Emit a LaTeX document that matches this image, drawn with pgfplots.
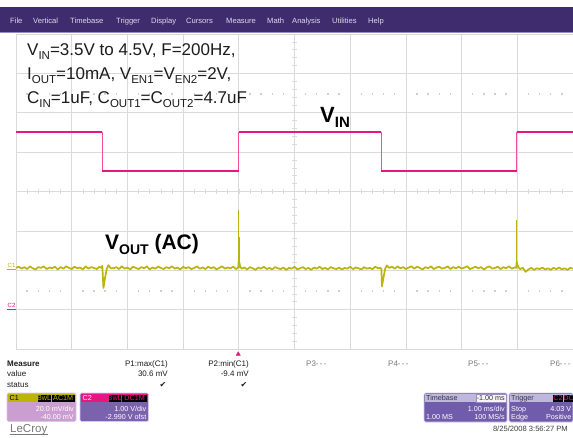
\documentclass[border=0pt]{standalone}
\usepackage{pgfplots}
\pgfplotsset{compat=1.18}
\usepackage{fontspec}
\setmainfont{Liberation Sans}
\newfontfamily\dejavu{DejaVu Sans}

\definecolor{menupurple}{RGB}{62,44,110}
\definecolor{menuline}{RGB}{150,140,190}
\definecolor{menutext}{RGB}{222,218,236}
\definecolor{gridgray}{RGB}{218,218,218}
\definecolor{vinpink}{RGB}{232,22,128}
\definecolor{voutolive}{RGB}{186,180,12}
\definecolor{cfirstbody}{RGB}{202,158,208}
\definecolor{csecondbody}{RGB}{122,98,172}
\definecolor{tbbody}{RGB}{112,92,170}
\definecolor{tbhead}{RGB}{190,184,218}
\definecolor{boxedge}{RGB}{214,200,232}
\definecolor{inktext}{RGB}{28,28,28}
\definecolor{softtext}{RGB}{120,120,120}

% small subscript used in the test-condition text
\newcommand\sbs[1]{\raisebox{-3.2pt}{\fontsize{11.5}{12}\selectfont #1}}
\newcommand\fs[1]{\fontsize{#1}{#1}\selectfont}

\begin{document}
\begin{tikzpicture}
\path[use as bounding box, fill=white] (0,0) rectangle (573pt,437pt);

% ---- screen decorations drawn under the traces (pixel frame, y downwards)
\begin{scope}[x=1pt,y=-1pt,shift={(0pt,437pt)}]
  % centre cross with fifth-division ticks
  \foreach \k in {1,...,39}
    \draw[gridgray, line width=0.6pt] (292.3,{34+\k*7.875}) -- (296.7,{34+\k*7.875});
  \foreach \k in {1,...,49}
    \draw[gridgray, line width=0.6pt] ({16+\k*11.14},189.4) -- ({16+\k*11.14},193.8);
  % dotted rows
  \foreach \d in {0,...,9}
    \foreach \j in {1,2,3,4} {
      \fill[gridgray!80!black!60] ({16+(\d*5+\j)*11.14-0.7},93.3) rectangle ++(1.4,1.4);
      \fill[gridgray!80!black!60] ({16+(\d*5+\j)*11.14-0.7},290.3) rectangle ++(1.4,1.4);
    }
\end{scope}

\begin{axis}[
  at={(16pt,88pt)}, anchor=south west,
  width=557pt, height=315pt, scale only axis,
  xmin=0, xmax=10, ymin=0, ymax=8,
  xtick={0,...,10}, ytick={0,...,8},
  xticklabels={}, yticklabels={},
  major tick length=0pt,
  tick style={draw=none},
  grid=major,
  major grid style={draw=gridgray, line width=0.7pt},
  axis line style={draw=gridgray, line width=0.8pt},
  clip=false,
  unbounded coords=jump,
]
% VIN, 1 V/div: edges
\addplot[vinpink!75, line width=0.9pt] coordinates {
  (0,5.51) (1.55,5.51) (1.55,4.52) (4.00,4.52) (4.00,5.51)
  (6.56,5.51) (6.56,4.52) (8.99,4.52) (8.99,5.51) (10,5.51)};
% VIN levels
\addplot[vinpink, line width=2.3pt] coordinates {
  (0,5.51) (1.55,5.51) (1.55,nan)
  (1.55,4.52) (4.00,4.52) (4.00,nan)
  (4.00,5.51) (6.56,5.51) (6.56,nan)
  (6.56,4.52) (8.99,4.52) (8.99,nan)
  (8.99,5.51) (10,5.51)};
% VOUT (AC), 20 mV/div, zero at 2 div: noise band
\addplot[voutolive, line width=1.7pt, line join=round] coordinates {
  (0.00,2.06)(0.05,2.09)(0.10,2.04)(0.15,2.08)(0.20,2.03)(0.25,2.10)(0.30,2.05)(0.35,2.02)
  (0.40,2.08)(0.45,2.06)(0.50,2.10)(0.55,2.03)(0.60,2.07)(0.65,2.05)(0.70,2.09)(0.75,2.02)
  (0.80,2.08)(0.85,2.04)(0.90,2.10)(0.95,2.06)(1.00,2.03)(1.05,2.09)(1.10,2.05)(1.15,2.07)
  (1.20,2.02)(1.25,2.10)(1.30,2.04)(1.35,2.08)(1.40,2.06)(1.45,2.03)(1.50,2.09)
  (1.53,2.06)(1.55,2.11)(1.57,1.55)(1.60,1.82)(1.63,2.04)(1.66,2.13)(1.70,2.05)
  (1.75,2.05)(1.80,2.08)(1.85,2.03)(1.90,2.10)(1.95,2.04)(2.00,2.07)(2.05,2.02)(2.10,2.09)
  (2.15,2.06)(2.20,2.03)(2.25,2.08)(2.30,2.05)(2.35,2.10)(2.40,2.02)(2.45,2.07)(2.50,2.04)
  (2.55,2.09)(2.60,2.06)(2.65,2.03)(2.70,2.08)(2.75,2.05)(2.80,2.10)(2.85,2.04)(2.90,2.07)
  (2.95,2.02)(3.00,2.09)(3.05,2.05)(3.10,2.08)(3.15,2.03)(3.20,2.06)(3.25,2.10)(3.30,2.04)
  (3.35,2.07)(3.40,2.03)(3.45,2.09)(3.50,2.05)(3.55,2.08)(3.60,2.02)(3.65,2.06)(3.70,2.10)
  (3.75,2.04)(3.80,2.07)(3.85,2.05)(3.90,2.09)(3.95,2.03)
  (3.99,2.07)(4.00,2.25)(4.01,2.20)(4.02,2.12)(4.04,2.06)
  (4.05,2.04)(4.10,2.07)(4.15,2.02)(4.20,2.08)(4.25,2.05)(4.30,2.01)(4.35,2.07)(4.40,2.04)
  (4.45,2.09)(4.50,2.03)(4.55,2.06)(4.60,2.02)(4.65,2.08)(4.70,2.05)(4.75,2.03)(4.80,2.07)
  (4.85,2.01)(4.90,2.06)(4.95,2.04)(5.00,2.09)(5.05,2.02)(5.10,2.05)(5.15,2.08)(5.20,2.03)
  (5.25,2.06)(5.30,2.01)(5.35,2.07)(5.40,2.04)(5.45,2.09)(5.50,2.03)(5.55,2.06)(5.60,2.02)
  (5.65,2.08)(5.70,2.05)(5.75,2.03)(5.80,2.07)(5.85,2.02)(5.90,2.06)(5.95,2.04)(6.00,2.09)
  (6.05,2.03)(6.10,2.07)(6.15,2.05)(6.20,2.02)(6.25,2.08)(6.30,2.04)(6.35,2.06)(6.40,2.03)
  (6.45,2.09)(6.50,2.05)
  (6.54,2.06)(6.56,2.03)(6.57,1.59)(6.60,1.84)(6.63,2.05)(6.66,2.12)
  (6.70,2.06)(6.75,2.09)(6.80,2.04)(6.85,2.10)(6.90,2.05)(6.95,2.08)(7.00,2.03)(7.05,2.07)
  (7.10,2.10)(7.15,2.04)(7.20,2.09)(7.25,2.06)(7.30,2.02)(7.35,2.08)(7.40,2.05)(7.45,2.10)
  (7.50,2.03)(7.55,2.07)(7.60,2.09)(7.65,2.04)(7.70,2.06)(7.75,2.10)(7.80,2.03)(7.85,2.08)
  (7.90,2.05)(7.95,2.09)(8.00,2.04)(8.05,2.07)(8.10,2.10)(8.15,2.03)(8.20,2.06)(8.25,2.09)
  (8.30,2.05)(8.35,2.08)(8.40,2.02)(8.45,2.07)(8.50,2.10)(8.55,2.04)(8.60,2.06)(8.65,2.09)
  (8.70,2.03)(8.75,2.08)(8.80,2.05)(8.85,2.10)(8.90,2.04)(8.95,2.07)
  (8.98,2.06)(8.99,2.22)(9.00,2.15)(9.02,2.08)
  (9.05,2.03)(9.10,2.06)(9.15,1.96)(9.20,2.02)(9.25,2.06)(9.30,2.01)(9.35,2.05)(9.40,2.03)
  (9.45,2.07)(9.50,2.02)(9.55,2.05)(9.60,2.01)(9.65,2.06)(9.70,2.03)(9.75,2.07)(9.80,2.02)
  (9.85,2.05)(9.90,2.01)(9.95,2.06)(10.00,2.04)};
% VOUT positive spikes at the rising VIN edges (P1: max = 30.6 mV)
\addplot[voutolive, line width=1.0pt] coordinates {(4.00,2.06) (4.00,3.53)};
\addplot[voutolive, line width=1.4pt] coordinates {(4.003,2.06) (4.003,2.85)};
\addplot[voutolive, line width=1.0pt] coordinates {(8.99,2.06) (8.99,3.28)};
% trigger position marker
\addplot[only marks, mark=triangle*, mark size=2.4pt, vinpink] coordinates {(3.99,-0.13)};
\end{axis}

% ---- text, menus and readouts (pixel frame, y downwards)
\begin{scope}[x=1pt,y=-1pt,shift={(0pt,437pt)}]
  % menu bar
  \fill[menupurple] (0,7) rectangle (573,32);
  \fill[menuline] (0,32) rectangle (573,33.2);
  \foreach \xx/\tt in {10/File,33/Vertical,70/Timebase,116/Trigger,151/Display,186/Cursors,
                       226/Measure,267/Math,292/Analysis,332/Utilities,368/Help}
    \node[anchor=base west, inner sep=0pt, text=menutext, font=\fs{7.6}] at (\xx,23.5) {\tt};

  % test conditions
  \node[anchor=base west, inner sep=0pt, text=inktext, font=\fs{17}] at (27,56)
    {V\sbs{IN}=3.5V to 4.5V, F=200Hz,};
  \node[anchor=base west, inner sep=0pt, text=inktext, font=\fs{17}] at (27,80)
    {I\sbs{OUT}=10mA, V\sbs{EN1}=V\sbs{EN2}=2V,};
  \node[anchor=base west, inner sep=0pt, text=inktext, font=\fs{17}] at (27,104)
    {C\sbs{IN}=1uF, C\sbs{OUT1}=C\sbs{OUT2}=4.7uF};

  % trace labels
  \node[anchor=base west, inner sep=0pt, text=black, font=\bfseries\fs{22}] at (320,123)
    {V\raisebox{-5pt}{\fs{15}IN}};
  \node[anchor=base west, inner sep=0pt, text=black, font=\bfseries\fs{21}] at (105,250)
    {V\raisebox{-4.5pt}{\fs{14}OUT} (AC)};

  % channel ground markers
  \node[anchor=base west, inner sep=0pt, text=voutolive, font=\fs{6}] at (7.5,267) {C1};
  \draw[voutolive, line width=0.9pt] (7,269.5) -- (16,269.5);
  \node[anchor=base west, inner sep=0pt, text=vinpink, font=\fs{6}] at (7.5,307) {C2};
  \draw[vinpink, line width=0.9pt] (7,309.5) -- (16,309.5);

  % measurement table
  \begin{scope}[every node/.style={inner sep=0pt, text=inktext, font=\fs{8}}]
    \node[anchor=base west, font=\bfseries\fs{8}] at (7,366) {Measure};
    \node[anchor=base west] at (7,376.5) {value};
    \node[anchor=base west] at (7,387) {status};
    \node[anchor=base east] at (168,366) {P1:max(C1)};
    \node[anchor=base east] at (168,376.5) {30.6 mV};
    \node[anchor=base] at (163,387.5) {\dejavu\fs{8}✔};
    \node[anchor=base east] at (249,366) {P2:min(C1)};
    \node[anchor=base east] at (249,376.5) {-9.4 mV};
    \node[anchor=base] at (244,387.5) {\dejavu\fs{8}✔};
    \node[anchor=base west, text=softtext] at (306,366) {P3-\,-\,-};
    \node[anchor=base west, text=softtext] at (388,366) {P4-\,-\,-};
    \node[anchor=base west, text=softtext] at (468,366) {P5-\,-\,-};
    \node[anchor=base west, text=softtext] at (550,366) {P6-\,-\,-};
  \end{scope}

  % channel readouts
  \begin{scope}[every node/.style={inner sep=0pt, font=\fs{7.2}}]
    \fill[cfirstbody, rounded corners=1.5pt, draw=boxedge, line width=0.6pt] (7,393) rectangle (76,421.5);
    \fill[voutolive] (7.6,393.6) rectangle (75.4,402.4);
    \node[anchor=base west, text=black] at (9.5,400.8) {C1};
    \fill[black] (38,394.6) rectangle (50.5,401.6);
    \node[anchor=base, text=voutolive] at (44.2,400.5) {BwL};
    \fill[black] (51.5,394.6) rectangle (75,401.6);
    \node[anchor=base, text=voutolive] at (63.2,400.5) {AC1M};
    \node[anchor=base east, text=white] at (74,411) {20.0 mV/div};
    \node[anchor=base east, text=white] at (74,419.5) {-40.00 mV};

    \fill[csecondbody, rounded corners=1.5pt, draw=boxedge, line width=0.6pt] (80,393) rectangle (148.5,421.5);
    \fill[vinpink] (80.6,393.6) rectangle (147.9,402.4);
    \node[anchor=base west, text=white] at (82.5,400.8) {C2};
    \fill[black] (108.5,394.6) rectangle (121,401.6);
    \node[anchor=base, text=vinpink] at (114.7,400.5) {BwL};
    \fill[black] (122,394.6) rectangle (147.3,401.6);
    \node[anchor=base, text=vinpink] at (134.6,400.5) {DC1M};
    \node[anchor=base east, text=white] at (146.5,411) {1.00 V/div};
    \node[anchor=base east, text=white] at (146.5,419.5) {-2.990 V ofst};

    % timebase
    \fill[tbbody, rounded corners=1.5pt, draw=boxedge, line width=0.6pt] (424,393) rectangle (507,422);
    \fill[tbhead] (424.6,393.6) rectangle (506.4,402.4);
    \fill[white!85!tbhead, draw=tbbody!70, line width=0.4pt] (476,394.2) rectangle (506,401.8);
    \node[anchor=base west, text=black!80] at (426,400.8) {Timebase};
    \node[anchor=base east, text=black!80] at (505,400.8) {-1.00 ms};
    \node[anchor=base east, text=white] at (505,411) {1.00 ms/div};
    \node[anchor=base west, text=white] at (426,419.5) {1.00 MS};
    \node[anchor=base east, text=white] at (505,419.5) {100 MS/s};

    % trigger
    \fill[tbbody, rounded corners=1.5pt, draw=boxedge, line width=0.6pt] (509,393) rectangle (573,422);
    \fill[tbhead] (509.6,393.6) rectangle (572.4,402.4);
    \node[anchor=base west, text=black!80] at (511,400.8) {Trigger};
    \fill[black] (553,394.6) rectangle (563,401.6);
    \node[anchor=base, text=vinpink] at (558,400.5) {C2};
    \fill[black] (564,394.6) rectangle (573,401.6);
    \node[anchor=base, text=vinpink] at (568.5,400.5) {DC};
    \node[anchor=base west, text=white] at (511,411) {Stop};
    \node[anchor=base east, text=white] at (571.5,411) {4.03 V};
    \node[anchor=base west, text=white] at (511,419.5) {Edge};
    \node[anchor=base east, text=white] at (571.5,419.5) {Positive};
  \end{scope}

  \node[anchor=base east, inner sep=0pt, text=black!75, font=\fs{7.6}] at (568,431.5) {8/25/2008 3:56:27 PM};
  \node[anchor=base west, inner sep=0pt, text=softtext, font=\fs{11.5}] at (10,432) {LeCroy};
  \draw[softtext, line width=0.7pt] (10,434.3) -- (48,434.3);
\end{scope}
\end{tikzpicture}
\end{document}
